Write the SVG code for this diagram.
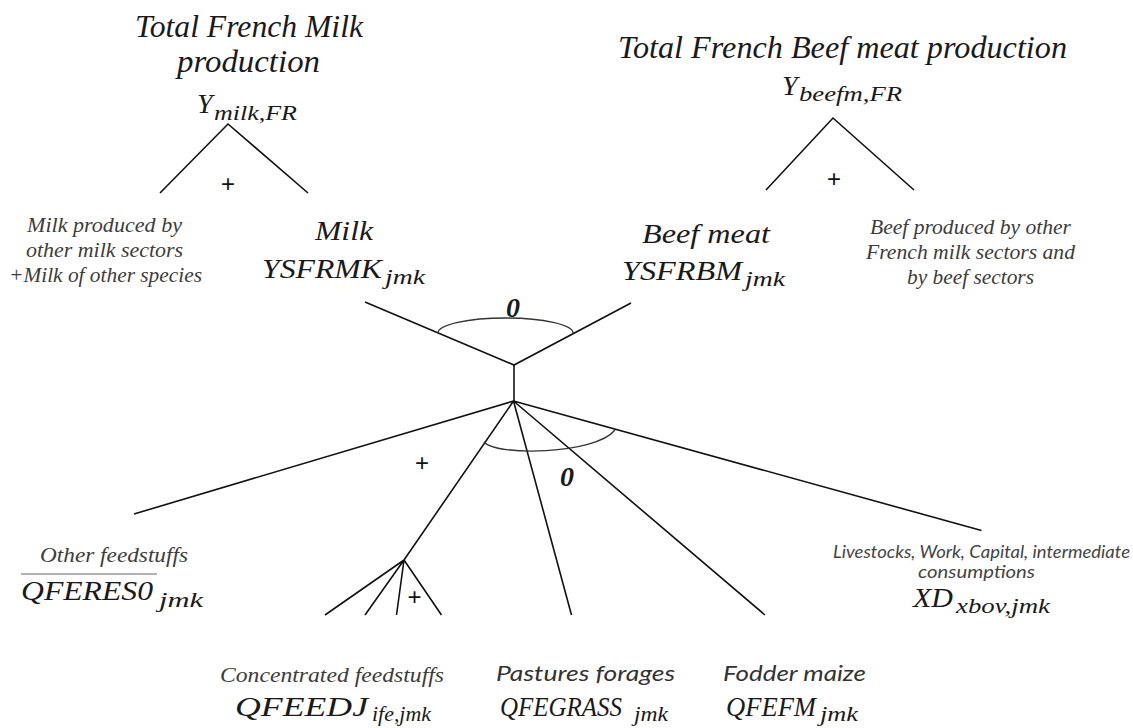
<svg xmlns="http://www.w3.org/2000/svg" width="1133" height="728" viewBox="0 0 1133 728">
<style>
text { font-family: "Liberation Serif", "DejaVu Serif", serif; font-style: italic; fill: #1a1a1a; }
.big { font-size: 31px; }
.m { font-size: 28px; }
.sub { font-size: 20px; }
.sm { font-size: 20px; fill: #3c3c3c; }
.sans { font-family: Lato, "Open Sans", "Liberation Sans", sans-serif; font-style: italic; fill: #333; font-size: 21px; }
.sans2 { font-family: Lato, "Open Sans", "Liberation Sans", sans-serif; font-style: italic; fill: #444; font-size: 17px; }
.plus { font-family: "Liberation Sans", Arial, sans-serif; font-style: normal; font-size: 24px; text-anchor: middle; fill: #111; }
.zero { font-size: 28px; font-weight: bold; text-anchor: middle; fill: #1a1a1a; }
.ln { fill: none; stroke: #111; stroke-width: 1.6; stroke-linejoin: miter; }
.arc { fill: none; stroke: #333; stroke-width: 1.3; }
</style>

<g id="connectors">
  <path class="ln" d="M160,193 L228,124 L308,193"/>
  <path class="ln" d="M766,190 L833,118 L914,190"/>
  <path class="ln" d="M365,302 L514,365 L631,303"/>
  <path class="ln" d="M514,365 L514,401"/>
  <path class="arc" d="M438,333 A67.5,15 0 0 1 573,333"/>
  <path class="ln" d="M513.5,401 L134,514 M513.5,401 L404,560 M513.5,401 L571.5,615 M513.5,401 L765,615 M513.5,401 L981.5,530.5"/>
  <path class="ln" d="M404,560 L325,615 M404,560 L365,615 M404,560 L396.5,615 M404,560 L441.5,615"/>
  <path class="arc" d="M484,442 C495,456 595,455 615,430"/>
  <text class="plus" x="228" y="191.5">+</text>
  <text class="plus" x="834" y="186.5">+</text>
  <text class="plus" x="422" y="470.5">+</text>
  <text class="plus" x="414.5" y="604.5">+</text>
  <text class="zero" x="513" y="317">0</text>
  <text class="zero" x="567" y="486">0</text>
</g>

<g id="milk-total">
  <text class="big" x="135" y="37" textLength="228" lengthAdjust="spacingAndGlyphs">Total French Milk</text>
  <text class="big" x="177" y="72" textLength="143" lengthAdjust="spacingAndGlyphs">production</text>
  <text class="m" x="197" y="113">Y</text>
  <text class="sub" x="214" y="120" textLength="83" lengthAdjust="spacingAndGlyphs">milk,FR</text>
</g>

<g id="beef-total">
  <text class="big" x="618" y="58" textLength="449" lengthAdjust="spacingAndGlyphs">Total French Beef meat production</text>
  <text class="m" x="782" y="95">Y</text>
  <text class="sub" x="799" y="101" textLength="103" lengthAdjust="spacingAndGlyphs">beefm,FR</text>
</g>

<g id="milk-other">
  <text class="sm" x="27" y="232" textLength="155" lengthAdjust="spacingAndGlyphs">Milk produced by</text>
  <text class="sm" x="26" y="257" textLength="157" lengthAdjust="spacingAndGlyphs">other milk sectors</text>
  <text class="sm" x="9" y="282" textLength="193" lengthAdjust="spacingAndGlyphs">+Milk of other species</text>
</g>

<g id="milk">
  <text class="m" x="315" y="240" textLength="58" lengthAdjust="spacingAndGlyphs">Milk</text>
  <text class="m" x="262" y="278" textLength="120" lengthAdjust="spacingAndGlyphs">YSFRMK</text>
  <text class="sub" x="385" y="284" textLength="40" lengthAdjust="spacingAndGlyphs">jmk</text>
</g>

<g id="beef">
  <text class="m" x="642" y="243" textLength="128" lengthAdjust="spacingAndGlyphs">Beef meat</text>
  <text class="m" x="622" y="280" textLength="120" lengthAdjust="spacingAndGlyphs">YSFRBM</text>
  <text class="sub" x="745" y="286" textLength="40" lengthAdjust="spacingAndGlyphs">jmk</text>
</g>

<g id="beef-other">
  <text class="sm" x="870" y="234" textLength="201" lengthAdjust="spacingAndGlyphs">Beef produced by other</text>
  <text class="sm" x="866" y="259" textLength="209" lengthAdjust="spacingAndGlyphs">French milk sectors and</text>
  <text class="sm" x="907" y="284" textLength="127" lengthAdjust="spacingAndGlyphs">by beef sectors</text>
</g>

<g id="other-feedstuffs">
  <text class="sm" x="40" y="562" textLength="148" lengthAdjust="spacingAndGlyphs">Other feedstuffs</text>
  <line x1="21" y1="574" x2="157" y2="574" stroke="#999" stroke-width="1.5"/>
  <text class="m" x="21" y="600" textLength="132" lengthAdjust="spacingAndGlyphs">QFERES0</text>
  <text class="sub" x="159" y="607" textLength="44" lengthAdjust="spacingAndGlyphs">jmk</text>
</g>

<g id="concentrated">
  <text class="sm" x="220" y="682" textLength="224" lengthAdjust="spacingAndGlyphs" style="font-size:21px">Concentrated feedstuffs</text>
  <text class="m" x="235" y="716" textLength="133" lengthAdjust="spacingAndGlyphs">QFEEDJ</text>
  <text class="sub" x="372" y="721" textLength="59" lengthAdjust="spacingAndGlyphs">ife,jmk</text>
</g>

<g id="pastures">
  <text class="sans" x="496" y="681" textLength="179" lengthAdjust="spacingAndGlyphs">Pastures forages</text>
  <text class="m" x="500" y="716" textLength="122" lengthAdjust="spacingAndGlyphs">QFEGRASS</text>
  <text class="sub" x="634" y="721" textLength="34" lengthAdjust="spacingAndGlyphs">jmk</text>
</g>

<g id="fodder">
  <text class="sans" x="723" y="681" textLength="143" lengthAdjust="spacingAndGlyphs">Fodder maize</text>
  <text class="m" x="726" y="716" textLength="90" lengthAdjust="spacingAndGlyphs">QFEFM</text>
  <text class="sub" x="820" y="721" textLength="38" lengthAdjust="spacingAndGlyphs">jmk</text>
</g>

<g id="inputs">
  <text class="sans2" x="833" y="558" textLength="297" lengthAdjust="spacingAndGlyphs">Livestocks, Work, Capital, intermediate</text>
  <text class="sans2" x="918" y="578" textLength="117" lengthAdjust="spacingAndGlyphs">consumptions</text>
  <text class="m" x="913" y="607" textLength="40" lengthAdjust="spacingAndGlyphs">XD</text>
  <text class="sub" x="956" y="613" textLength="94" lengthAdjust="spacingAndGlyphs">xbov,jmk</text>
</g>
</svg>
